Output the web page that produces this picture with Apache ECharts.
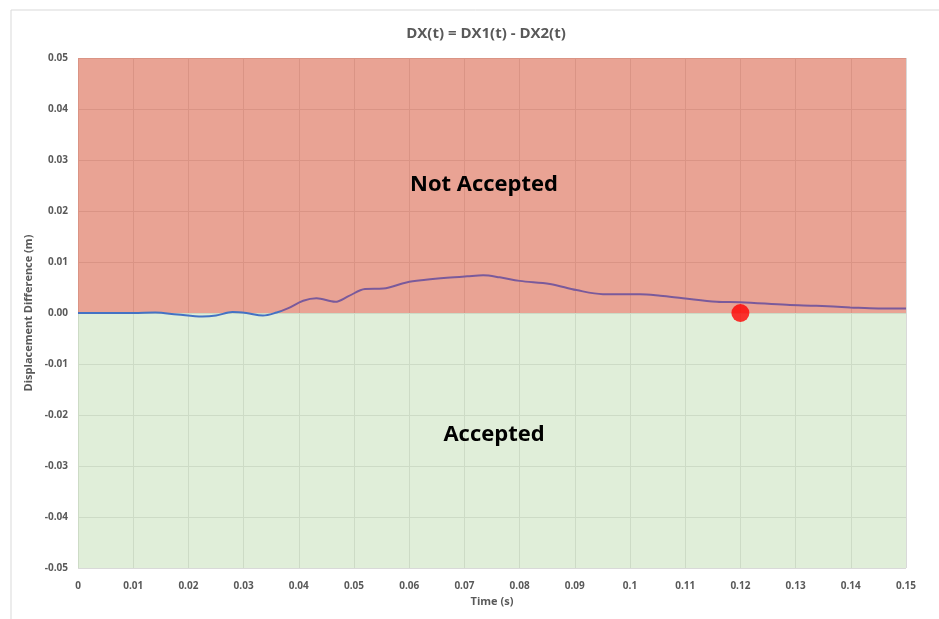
<!DOCTYPE html>
<html>
<head>
<meta charset="utf-8">
<script src="https://cdn.jsdelivr.net/npm/echarts@6/dist/echarts.min.js"></script>
<style>
  html, body { margin: 0; padding: 0; background: #fff; }
  #chart-container { width: 939px; height: 619px; }
</style>
</head>
<body>
<div id="chart-container"></div>
<script>
'use strict';

const timeValues = [0, 0.005, 0.01, 0.014, 0.018, 0.0225, 0.025, 0.028, 0.0305, 0.0335, 0.036, 0.038,
    0.0408, 0.0432, 0.0466, 0.049, 0.052, 0.0553, 0.0595, 0.063, 0.0668, 0.0705, 0.0734, 0.0764,
    0.08, 0.0855, 0.0903, 0.0951, 0.1018, 0.1055, 0.1096, 0.1157, 0.12, 0.1284, 0.1338, 0.1399,
    0.145, 0.15];
const dxValues = [0, 0, 0, 0.0001, -0.0003, -0.0007, -0.0005, 0.0002, 0, -0.0005, 0.0001, 0.0009,
    0.0024, 0.0029, 0.0022, 0.0033, 0.0047, 0.0048, 0.006, 0.0065, 0.0069, 0.0072, 0.0074, 0.007,
    0.0063, 0.0057, 0.0045, 0.0037, 0.0037, 0.0034, 0.0029, 0.0022, 0.0021, 0.0016, 0.0014, 0.0011,
    0.0009, 0.0009];
const checkPoint = [0.12, 0];
const zoneLabels = ['Not Accepted', 'Accepted'];

const myChart = echarts.init(document.getElementById('chart-container'), null, { renderer: 'canvas' });

const labelFont = 'Open Sans';
const gray = '#595959';

// grid box in pixels, used for the line's two-tone gradient too
const gridTop = 58, gridBottom = 51, chartH = 619;
const plotH = chartH - gridTop - gridBottom;
// the line turns purple just above zero (inside the red zone)
const splitAt = (0.05 - 0.0003) / 0.1;

const option = {
    backgroundColor: '#fff',
    animation: false,
    title: {
        text: 'DX(t) = DX1(t) - DX2(t)',
        left: 481,
        textAlign: 'center',
        top: 21,
        textStyle: { fontFamily: labelFont, fontSize: 15, fontWeight: 'bold', color: gray }
    },
    graphic: [{
        type: 'rect',
        shape: { x: 11, y: 10, width: 1000, height: 700 },
        style: { fill: 'none', stroke: '#d9d9d9', lineWidth: 1 },
        silent: true
    }],
    grid: { left: 78, right: 33, top: gridTop, bottom: gridBottom },
    xAxis: {
        type: 'value',
        min: 0,
        max: 0.15,
        interval: 0.01,
        name: 'Time (s)',
        nameLocation: 'middle',
        nameGap: 27,
        nameTextStyle: { fontFamily: labelFont, fontSize: 11, color: gray, fontWeight: 'bold' },
        axisLine: { show: false },
        axisTick: { show: false },
        axisLabel: {
            margin: 13,
            fontFamily: labelFont, fontSize: 10, fontWeight: 'bold', color: gray,
            formatter: (v) => String(+v.toFixed(2))
        },
        splitLine: { show: true, lineStyle: { color: '#d9d9d9', width: 1 } }
    },
    yAxis: {
        type: 'value',
        min: -0.05,
        max: 0.05,
        interval: 0.01,
        name: 'Displacement Difference (m)',
        nameLocation: 'middle',
        nameGap: 39,
        nameTextStyle: { fontFamily: labelFont, fontSize: 11, color: gray, fontWeight: 'bold' },
        axisLine: { show: false },
        axisTick: { show: false },
        axisLabel: {
            margin: 10,
            fontFamily: labelFont, fontSize: 10, fontWeight: 'bold', color: gray,
            formatter: (v) => {
                const s = v.toFixed(2);
                return s === '-0.00' ? '0.00' : s;
            }
        },
        splitLine: { show: true, lineStyle: { color: '#d9d9d9', width: 1 } }
    },
    series: [
        {
            type: 'line',
            z: 1,
            data: [],
            silent: true,
            markArea: {
                silent: true,
                label: {
                    show: true,
                    position: 'inside',
                    fontFamily: labelFont,
                    fontSize: 22,
                    fontWeight: 'bold',
                    color: '#000'
                },
                data: [
                    [
                        { name: zoneLabels[0], coord: [0, 0], itemStyle: { color: 'rgba(218, 102, 77, 0.6)' },
                          label: { offset: [-8, -1] } },
                        { coord: [0.15, 0.05] }
                    ],
                    [
                        { name: zoneLabels[1], coord: [0, -0.05], itemStyle: { color: 'rgba(193, 221, 179, 0.5)' },
                          label: { offset: [2, -6] } },
                        { coord: [0.15, 0] }
                    ]
                ]
            }
        },
        {
            type: 'line',
            z: 3,
            smooth: 0.35,
            showSymbol: false,
            lineStyle: {
                width: 2,
                color: {
                    type: 'linear',
                    x: 0, y: gridTop, x2: 0, y2: gridTop + plotH,
                    global: true,
                    colorStops: [
                        { offset: 0, color: '#7A5A9B' },
                        { offset: splitAt, color: '#7A5A9B' },
                        { offset: splitAt, color: '#4472C4' },
                        { offset: 1, color: '#4472C4' }
                    ]
                }
            },
            data: timeValues.map((t, i) => [t, dxValues[i]])
        },
        {
            type: 'scatter',
            z: 5,
            symbolSize: 18,
            itemStyle: { color: '#ff0000' },
            data: [checkPoint]
        }
    ]
};

myChart.setOption(option);
window.addEventListener('resize', myChart.resize);
</script>
</body>
</html>
